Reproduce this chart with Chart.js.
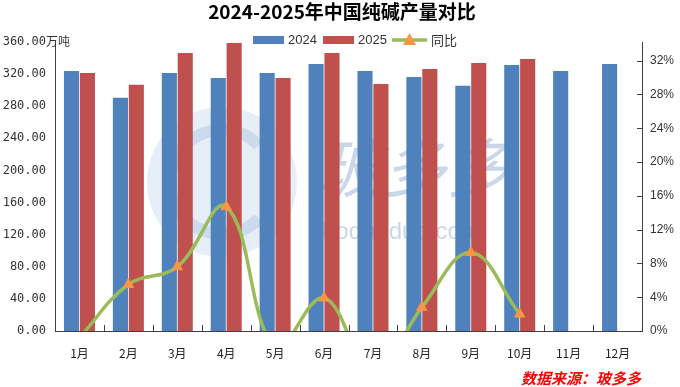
<!DOCTYPE html>
<html>
<head>
<meta charset="utf-8">
<script src="https://cdn.jsdelivr.net/npm/chart.js@4/dist/chart.umd.min.js"></script>
<style>
  html, body { margin: 0; padding: 0; background: #fff; }
  canvas { display: block; }
</style>
</head>
<body>
<canvas id="chart" width="680" height="387"></canvas>
<script>
const months = ['1月', '2月', '3月', '4月', '5月', '6月', '7月', '8月', '9月', '10月', '11月', '12月'];
const output2024 = [324, 290.5, 321.5, 315.3, 321.5, 332.7, 324, 316.5, 305.4, 331.4, 324, 332.7];
const output2025 = [321.5, 306.6, 346.3, 358.7, 315.3, 346.3, 307.8, 326.5, 333.9, 338.9, null, null];
const yoyPct = [-0.8, 5.5, 7.6, 14.7, -1.9, 3.9, -5.0, 2.8, 9.3, 2.0, null, null];

const BLUE = '#4F81BD', RED = '#C0504D', GREEN = '#9BBB59', ORANGE = '#F79646';
const AXIS = '#404040';
const cjk = '"Noto Sans CJK SC", "Liberation Sans", sans-serif';

// 水印（淡色）
const watermark = {
  id: 'watermark',
  beforeDatasetsDraw(chart) {
    const { ctx } = chart;
    ctx.save();
    ctx.fillStyle = 'rgba(200, 218, 238, 0.45)';
    ctx.beginPath();
    ctx.arc(222, 182, 75, 0, Math.PI * 2);
    ctx.fill();
    ctx.strokeStyle = 'rgba(175, 198, 228, 0.5)';
    ctx.lineWidth = 12;
    ctx.beginPath();
    ctx.arc(222, 182, 52, Math.PI * 0.25, Math.PI * 1.75);
    ctx.stroke();
    ctx.fillStyle = 'rgba(165, 188, 218, 0.6)';
    ctx.font = 'italic 64px ' + cjk;
    ctx.textAlign = 'left';
    ctx.textBaseline = 'middle';
    ctx.fillText('玻多多', 318, 168);
    ctx.font = '24px "Liberation Sans", sans-serif';
    ctx.fillText('boduoduo.com', 322, 232);
    ctx.restore();
  }
};

// 标题、图例、单位、来源 + 朝内的刻度线
const decor = {
  id: 'decor',
  afterDraw(chart) {
    const { ctx, chartArea: area, scales } = chart;
    ctx.save();

    ctx.strokeStyle = AXIS;
    ctx.lineWidth = 1;
    const x = scales.x;
    for (let i = 1; i < months.length; i++) {
      const px = Math.round((x.getPixelForValue(i - 1) + x.getPixelForValue(i)) / 2) + 0.5;
      ctx.beginPath();
      ctx.moveTo(px, area.bottom);
      ctx.lineTo(px, area.bottom - 6);
      ctx.stroke();
    }
    scales.y1.ticks.forEach(t => {
      const py = Math.round(scales.y1.getPixelForValue(t.value)) + 0.5;
      ctx.beginPath();
      ctx.moveTo(area.right - 5, py);
      ctx.lineTo(area.right, py);
      ctx.stroke();
    });

    ctx.fillStyle = '#000';
    ctx.font = 'bold 19px ' + cjk;
    ctx.textAlign = 'center';
    ctx.textBaseline = 'middle';
    ctx.fillText('2024-2025年中国纯碱产量对比', 342, 12);

    // 图例
    ctx.font = '13px "Liberation Sans", sans-serif';
    ctx.textAlign = 'left';
    ctx.fillStyle = BLUE;
    ctx.fillRect(253, 36, 31, 8);
    ctx.fillStyle = RED;
    ctx.fillRect(323, 36, 31, 8);
    ctx.fillStyle = '#333';
    ctx.fillText('2024', 288, 40);
    ctx.fillText('2025', 358, 40);
    ctx.strokeStyle = GREEN;
    ctx.lineWidth = 3.5;
    ctx.beginPath();
    ctx.moveTo(392, 40);
    ctx.lineTo(427, 40);
    ctx.stroke();
    ctx.fillStyle = ORANGE;
    ctx.beginPath();
    ctx.moveTo(409.5, 33);
    ctx.lineTo(416, 45);
    ctx.lineTo(403, 45);
    ctx.closePath();
    ctx.fill();
    ctx.fillStyle = '#333';
    ctx.font = '13px ' + cjk;
    ctx.fillText('同比', 431, 40);

    ctx.font = '12px ' + cjk;
    ctx.fillText('万吨', 46, 41);

    ctx.fillStyle = '#FF0000';
    ctx.font = 'italic bold 15px ' + cjk;
    ctx.fillText('数据来源：玻多多', 521, 378);
    ctx.restore();
  }
};

new Chart(document.getElementById('chart'), {
  data: {
    labels: months,
    datasets: [
      {
        type: 'line',
        label: '同比',
        data: yoyPct,
        yAxisID: 'y1',
        order: 0,
        borderColor: GREEN,
        borderWidth: 3.5,
        tension: 0.4,
        pointStyle: 'triangle',
        pointRadius: 6,
        pointBackgroundColor: ORANGE,
        pointBorderColor: ORANGE,
        pointBorderWidth: 1
      },
      {
        type: 'bar',
        label: '2024',
        data: output2024,
        yAxisID: 'y',
        order: 1,
        backgroundColor: BLUE,
        categoryPercentage: 0.65,
        barPercentage: 0.95
      },
      {
        type: 'bar',
        label: '2025',
        data: output2025,
        yAxisID: 'y',
        order: 1,
        backgroundColor: RED,
        categoryPercentage: 0.65,
        barPercentage: 0.95
      }
    ]
  },
  options: {
    responsive: false,
    animation: false,
    devicePixelRatio: 1,
    layout: { padding: { top: 42, left: 0, right: 0, bottom: 0 } },
    plugins: {
      legend: { display: false },
      title: { display: false },
      tooltip: { enabled: false }
    },
    scales: {
      x: {
        grid: { display: false },
        border: { display: true, color: AXIS, width: 1 },
        ticks: { color: '#222', font: { family: cjk, size: 12 }, padding: 7, maxRotation: 0 },
        afterFit: s => { s.height = 56; }
      },
      y: {
        position: 'left',
        min: 0,
        max: 360,
        grid: { display: false, drawTicks: false },
        border: { display: true, color: AXIS, width: 1 },
        ticks: {
          stepSize: 40,
          color: '#333',
          padding: 9,
          font: { family: '"DejaVu Sans Mono", monospace', size: 12 },
          callback: v => v.toFixed(2)
        },
        afterFit: s => { s.width = 55; }
      },
      y1: {
        position: 'right',
        min: 0,
        max: 34.2,
        grid: { display: false, drawTicks: false },
        border: { display: true, color: AXIS, width: 1 },
        ticks: {
          stepSize: 4,
          color: '#333',
          padding: 8,
          font: { family: '"Liberation Sans", sans-serif', size: 12 },
          callback: v => v + '%'
        },
        afterBuildTicks: s => { s.ticks = s.ticks.filter(t => t.value % 4 === 0); },
        afterFit: s => { s.width = 38; }
      }
    }
  },
  plugins: [watermark, decor]
});
</script>
</body>
</html>
